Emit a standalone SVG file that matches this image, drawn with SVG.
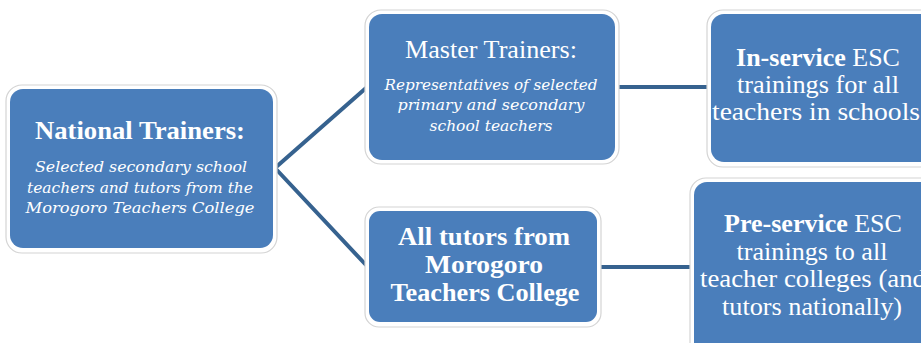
<svg xmlns="http://www.w3.org/2000/svg" width="921" height="343" viewBox="0 0 921 343">
<style>
.outer{fill:#ffffff;stroke:#d4d4d4;stroke-width:1.2}
.inner{fill:#4a7ebb;stroke:none}
.conn{stroke:#36628f;stroke-width:4;fill:none;stroke-linecap:round;stroke-linejoin:round}
text{font-family:"Liberation Serif","Times New Roman",serif;fill:#ffffff;text-anchor:middle}
.t{font-size:26px}
.b{font-weight:bold}
.i{font-family:"DejaVu Serif","Liberation Serif",serif;font-style:italic;font-size:15px}
</style>
<rect width="921" height="343" fill="#ffffff"/>
<g id="connectors">
<polyline class="conn" points="366,88 275,168 366,265"/>
<line class="conn" x1="619" y1="87" x2="707" y2="87"/>
<line class="conn" x1="600" y1="267" x2="690" y2="267"/>
</g>
<g id="national">
<rect class="outer" x="6" y="85" width="271" height="168" rx="16"/>
<rect class="inner" x="10" y="89" width="263" height="159" rx="13"/>
<text class="t b" x="140" y="139" textLength="210" lengthAdjust="spacingAndGlyphs">National Trainers:</text>
<text class="i" x="141" y="172" textLength="212" lengthAdjust="spacingAndGlyphs">Selected secondary school</text>
<text class="i" x="140" y="193" textLength="226" lengthAdjust="spacingAndGlyphs">teachers and tutors from the</text>
<text class="i" x="140" y="213" textLength="229" lengthAdjust="spacingAndGlyphs">Morogoro Teachers College</text>
</g>
<g id="master">
<rect class="outer" x="365" y="10" width="254" height="154" rx="16"/>
<rect class="inner" x="369" y="14" width="246" height="146" rx="13"/>
<text class="t" x="491" y="58" textLength="172" lengthAdjust="spacingAndGlyphs">Master Trainers:</text>
<text class="i" x="491" y="90" textLength="213" lengthAdjust="spacingAndGlyphs">Representatives of selected</text>
<text class="i" x="491" y="110" textLength="187" lengthAdjust="spacingAndGlyphs">primary and secondary</text>
<text class="i" x="491" y="131" textLength="123" lengthAdjust="spacingAndGlyphs">school teachers</text>
</g>
<g id="tutors">
<rect class="outer" x="365" y="207" width="236" height="120" rx="14"/>
<rect class="inner" x="369" y="211" width="228" height="111" rx="11"/>
<text class="t b" x="484" y="245" textLength="172" lengthAdjust="spacingAndGlyphs">All tutors from</text>
<text class="t b" x="484" y="273" textLength="118" lengthAdjust="spacingAndGlyphs">Morogoro</text>
<text class="t b" x="485" y="301" textLength="189" lengthAdjust="spacingAndGlyphs">Teachers College</text>
</g>
<g id="inservice">
<rect class="outer" x="707" y="10" width="240" height="157" rx="16"/>
<rect class="inner" x="711" y="14" width="232" height="148" rx="13"/>
<text class="t" x="818" y="66"><tspan class="b">In-service</tspan> ESC</text>
<text class="t" x="818" y="93" textLength="162" lengthAdjust="spacingAndGlyphs">trainings for all</text>
<text class="t" x="816" y="120" textLength="208" lengthAdjust="spacingAndGlyphs">teachers in schools</text>
</g>
<g id="preservice">
<rect class="outer" x="690" y="178" width="250" height="190" rx="16"/>
<rect class="inner" x="694" y="182" width="242" height="180" rx="13"/>
<text class="t" x="813" y="232"><tspan class="b">Pre-service</tspan> ESC</text>
<text class="t" x="812" y="260" textLength="151" lengthAdjust="spacingAndGlyphs">trainings to all</text>
<text class="t" x="813" y="287" textLength="226" lengthAdjust="spacingAndGlyphs">teacher colleges (and</text>
<text class="t" x="812" y="315" textLength="180" lengthAdjust="spacingAndGlyphs">tutors nationally)</text>
</g>
</svg>
